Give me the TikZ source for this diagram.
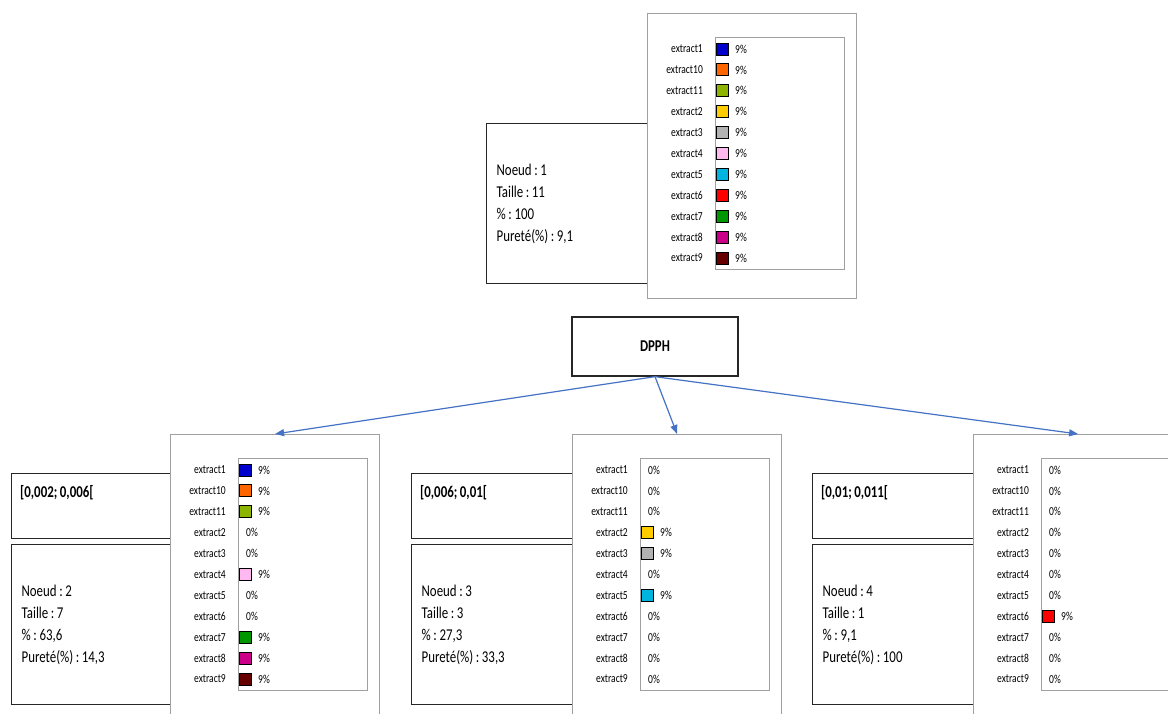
\documentclass[tikz,border=0pt]{standalone}
\usepackage{fontspec}
\setmainfont{Carlito}
\newfontfamily\cfont[FakeStretch=0.78]{Carlito}
\usetikzlibrary{arrows.meta}
\definecolor{c1}{RGB}{0,0,204}
\definecolor{c10}{RGB}{255,102,0}
\definecolor{c11}{RGB}{140,180,0}
\definecolor{c2}{RGB}{255,204,0}
\definecolor{c3}{RGB}{178,178,178}
\definecolor{c4}{RGB}{255,185,240}
\definecolor{c5}{RGB}{0,180,224}
\definecolor{c6}{RGB}{255,0,0}
\definecolor{c7}{RGB}{0,150,0}
\definecolor{c8}{RGB}{204,0,136}
\definecolor{c9}{RGB}{102,0,0}
\definecolor{boxgray}{RGB}{160,160,160}
\definecolor{arrblue}{RGB}{68,114,196}
\newcommand{\cln}{\kern2.6pt:\kern2.6pt}
\tikzset{
  infobox/.style={draw=black!85, line width=1.3pt, fill=white, rectangle, anchor=north west,
    inner xsep=10pt, inner ysep=0pt, align=left, text width=180pt, minimum height=160pt,
    font=\cfont\fontsize{16.5}{22}\selectfont},
  rangebox/.style={draw=black!85, line width=1.3pt, fill=white, rectangle, anchor=north west,
    minimum width=200pt, minimum height=65pt, inner sep=0pt},
  rangetext/.style={anchor=west, inner sep=0pt, font=\cfont\fontsize{16.5}{18}\selectfont\bfseries},
  chartbox/.style={draw=boxgray, line width=1.2pt, fill=white, rectangle, anchor=north west,
    minimum width=209pt, minimum height=285pt, inner sep=0pt},
  legbox/.style={draw=boxgray, line width=1.2pt, fill=white, rectangle, anchor=north west,
    minimum width=129pt, minimum height=232pt, inner sep=0pt},
  lab/.style={anchor=east, inner sep=0pt, font=\cfont\fontsize{12.2}{13}\selectfont},
  pct/.style={anchor=west, inner sep=0pt, font=\cfont\fontsize{12.2}{13}\selectfont},
  sq/.style={draw=black, line width=0.9pt, minimum width=12pt, minimum height=12pt, inner sep=0pt},
  dpphbox/.style={draw=black!85, line width=1.3pt, fill=white, rectangle, minimum width=166pt,
    minimum height=59pt, font=\cfont\fontsize{16.5}{18}\selectfont\bfseries},
  arr/.style={draw=arrblue, line width=1.2pt, -{Triangle[length=9pt,width=7pt]}, arrblue},
}
\newcommand{\drawchart}[4]{%
  \node[chartbox] (#1) at (#2,#3) {};
  \node[legbox] (#1leg) at ([xshift=68pt,yshift=-24pt]#1.north west) {};
  \foreach \lab/\col/\pc [count=\i from 0] in {#4} {
    \pgfmathsetmacro\yy{12+\i*20.9}
    \node[lab] (#1l\i) at ([xshift=-12pt,yshift=-\yy pt]#1leg.north west) {\lab};
    \ifnum\pc=0
      \node[pct] (#1p\i) at ([xshift=8pt,yshift=-\yy pt]#1leg.north west) {0\%};
    \else
      \node[sq, fill=\col] (#1s\i) at ([xshift=7pt,yshift=-\yy pt]#1leg.north west) {};
      \node[pct] (#1p\i) at ([xshift=20pt,yshift=-\yy pt]#1leg.north west) {9\%};
    \fi
  }
}
\begin{document}
\begin{tikzpicture}[x=1pt,y=-1pt]
\useasboundingbox (0,0) rectangle (1168,714);
\clip (0,0) rectangle (1168,714);
\fill[white] (0,0) rectangle (1168,714);

% top node
\node[infobox] (n1info) at (486,123) {Noeud\cln1\\Taille\cln11\\\%\cln100\\Pureté(\%)\cln9,1};
\drawchart{n1chart}{647}{13}{extract1/c1/9,extract10/c10/9,extract11/c11/9,extract2/c2/9,extract3/c3/9,extract4/c4/9,extract5/c5/9,extract6/c6/9,extract7/c7/9,extract8/c8/9,extract9/c9/9}

% DPPH
\node[dpphbox] (dpph) at (655,346.5) {DPPH};

% node 2
\node[rangebox] (r2) at (11,473) {};
\node[rangetext] (r2t) at ([xshift=9pt,yshift=-20pt]r2.north west) {[0,002;\kern2.6pt0,006[};
\node[infobox] (n2info) at (11,544) {Noeud\cln2\\Taille\cln7\\\%\cln63,6\\Pureté(\%)\cln14,3};
\drawchart{n2chart}{170}{434}{extract1/c1/9,extract10/c10/9,extract11/c11/9,extract2/c2/0,extract3/c3/0,extract4/c4/9,extract5/c5/0,extract6/c6/0,extract7/c7/9,extract8/c8/9,extract9/c9/9}

% node 3
\node[rangebox] (r3) at (411,473) {};
\node[rangetext] (r3t) at ([xshift=9pt,yshift=-20pt]r3.north west) {[0,006;\kern2.6pt0,01[};
\node[infobox] (n3info) at (411,544) {Noeud\cln3\\Taille\cln3\\\%\cln27,3\\Pureté(\%)\cln33,3};
\drawchart{n3chart}{572}{434}{extract1/c1/0,extract10/c10/0,extract11/c11/0,extract2/c2/9,extract3/c3/9,extract4/c4/0,extract5/c5/9,extract6/c6/0,extract7/c7/0,extract8/c8/0,extract9/c9/0}

% node 4
\node[rangebox] (r4) at (812,473) {};
\node[rangetext] (r4t) at ([xshift=9pt,yshift=-20pt]r4.north west) {[0,01;\kern2.6pt0,011[};
\node[infobox] (n4info) at (812,544) {Noeud\cln4\\Taille\cln1\\\%\cln9,1\\Pureté(\%)\cln100};
\drawchart{n4chart}{973}{434}{extract1/c1/0,extract10/c10/0,extract11/c11/0,extract2/c2/0,extract3/c3/0,extract4/c4/0,extract5/c5/0,extract6/c6/9,extract7/c7/0,extract8/c8/0,extract9/c9/0}

% arrows
\draw[arr] (dpph.south) -- (n2chart.north);
\draw[arr] (dpph.south) -- (n3chart.north);
\draw[arr] (dpph.south) -- (n4chart.north);
\end{tikzpicture}
\end{document}
